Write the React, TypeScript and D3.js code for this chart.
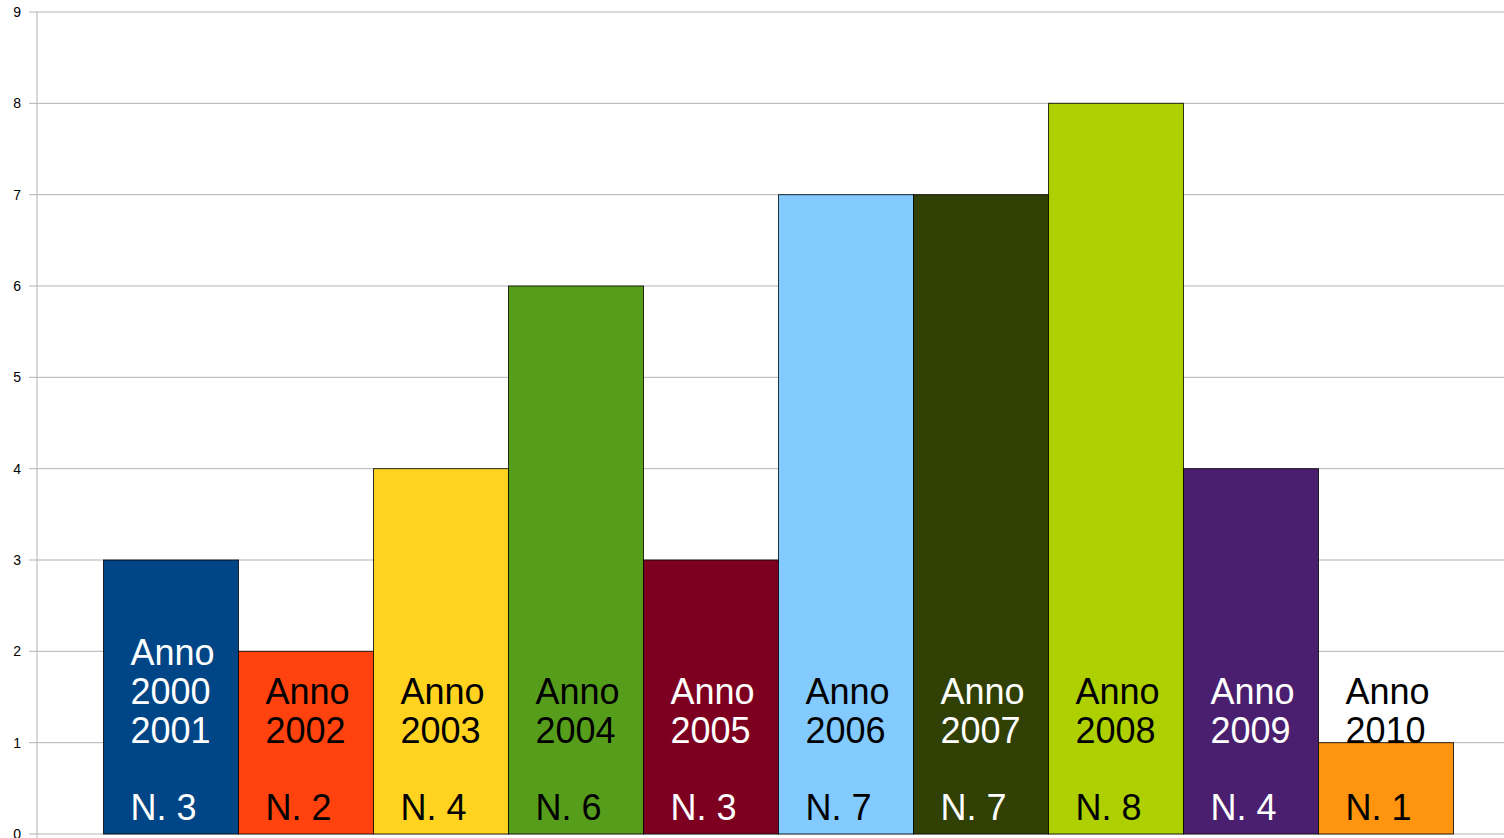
import React from "react";
import * as d3 from "d3";

const categories = ["2000-2001", "2002", "2003", "2004", "2005", "2006", "2007", "2008", "2009", "2010"];
const labelLines = [
  ["Anno", "2000", "2001"],
  ["Anno", "2002"],
  ["Anno", "2003"],
  ["Anno", "2004"],
  ["Anno", "2005"],
  ["Anno", "2006"],
  ["Anno", "2007"],
  ["Anno", "2008"],
  ["Anno", "2009"],
  ["Anno", "2010"],
];
const values = [3, 2, 4, 6, 3, 7, 7, 8, 4, 1];
const colors = ["#004586", "#ff420e", "#ffd320", "#579d1c", "#7e0021", "#83caff", "#314004", "#aecf00", "#4b1f6f", "#ff950e"];
const textColors = ["#ffffff", "#000000", "#000000", "#000000", "#ffffff", "#000000", "#ffffff", "#000000", "#ffffff", "#000000"];
const yTicks = [0, 1, 2, 3, 4, 5, 6, 7, 8, 9];

const W = 1504;
const H = 838;
const plotLeft = 37;
const plotTop = 12;
const plotBottom = 834;
const barsLeft = 103.5;
const barsRight = 1453.5;

export default function App() {
  const y = d3.scaleLinear().domain([0, 9]).range([plotBottom, plotTop]);
  const x = d3.scaleBand<string>().domain(categories).range([barsLeft, barsRight]).padding(0);
  const font = "'Liberation Sans', Arial, sans-serif";
  return (
    <svg width={W} height={H} style={{ position: "absolute", left: 0, top: 0, display: "block", background: "#fff" }}>
      {yTicks.map((t) => (
        <g key={t}>
          <line x1={29} x2={W} y1={y(t)} y2={y(t)} stroke="#b3b3b3" strokeWidth={1} />
          <text x={21} y={y(t)} dy="0.36em" textAnchor="end" fontFamily={font} fontSize={14} fill="#000">
            {t}
          </text>
        </g>
      ))}
      <line x1={plotLeft} x2={plotLeft} y1={plotTop} y2={H} stroke="#b3b3b3" strokeWidth={1} />
      {categories.map((c, i) => (
        <rect
          key={c}
          x={x(c)!}
          y={y(values[i])}
          width={x.bandwidth()}
          height={y(0) - y(values[i])}
          fill={colors[i]}
          stroke="#000"
          strokeOpacity={0.8}
          strokeWidth={1}
        />
      ))}
      {categories.map((c, i) => {
        const lines = labelLines[i];
        const tx = x(c)! + 27;
        return (
          <g key={"t" + c} fontFamily={font} fontSize={36} fill={textColors[i]}>
            {lines.map((ln, j) => (
              <text key={j} x={tx} y={743 - (lines.length - 1 - j) * 39}>
                {ln}
              </text>
            ))}
            <text x={tx} y={820}>{"N. " + values[i]}</text>
          </g>
        );
      })}
    </svg>
  );
}
